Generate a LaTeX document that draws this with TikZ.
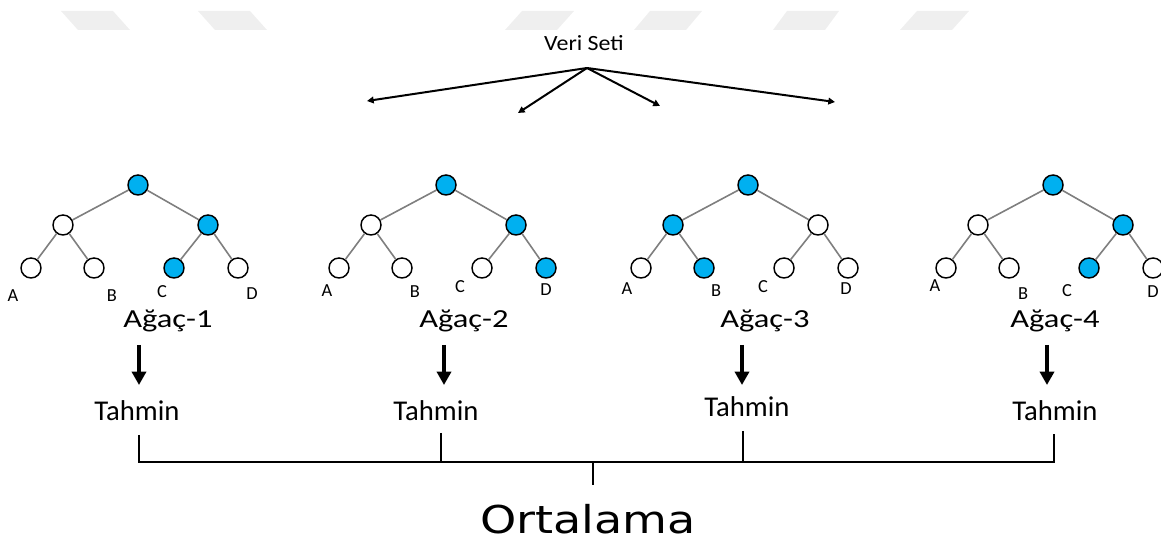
\documentclass[tikz,border=0pt]{standalone}
\usepackage{fontspec}
\setmainfont{Carlito}
\newfontfamily\ortafont{DejaVu Sans}
\usepackage{graphicx}
\usetikzlibrary{arrows.meta}

\definecolor{treeblue}{HTML}{00B0F0}
\definecolor{edgegray}{HTML}{7F7F7F}
\definecolor{markgray}{HTML}{EFEFEF}

\tikzset{
  vertex/.style={circle, draw=black, line width=1.1pt, fill=white, minimum size=15pt, inner sep=0pt},
  edge/.style={draw=edgegray, line width=1.2pt},
  fan/.style={line width=1.5pt, -{Triangle[length=5pt, width=5pt]}},
  down/.style={line width=3pt, -{Triangle[length=10pt, width=10.5pt]}},
  bracket/.style={line width=2.1pt, line join=miter},
  title/.style={anchor=base, inner sep=0pt, font=\fontsize{16.3}{18}\selectfont},
  leaflabel/.style={anchor=base, inner sep=0pt, font=\fontsize{13.8}{15}\selectfont},
  treename/.style={anchor=base, inner sep=0pt, font=\fontsize{19.5}{22}\selectfont},
  guess/.style={anchor=base, inner sep=0pt, font=\fontsize{21.5}{24}\selectfont},
  result/.style={anchor=base, inner sep=0pt, font=\ortafont\fontsize{28.8}{32}\selectfont}
}

\begin{document}
\begin{tikzpicture}[x=0.75pt, y=-0.75pt]
\useasboundingbox (0,0) rectangle (1161,541);

% faint marks along the top edge
\foreach \a/\b in {61/78, 198/215, 522/505, 650/634, 787/773, 917/900}
  \fill[markgray] (\a,11) -- (\a+52,11) -- (\b+52,30) -- (\b,30) -- cycle;

% data set splits four ways
\node[title] (data) at (584,51) {\scalebox{1.1}[1]{Veri Seti}};
\coordinate (hub) at (587,68);
\foreach \n/\px/\py in {1/367/101, 2/518/113, 3/660/106, 4/835/102} {
  \coordinate (split\n) at (\px,\py);
  \draw[fan] (hub) -- (split\n);
}

% the four trees, chosen branch in blue
\foreach \i/\x/\branch/\pick in {1/138/R/C, 2/446/R/D, 3/748/L/B, 4/1053/R/C} {
  \tikzset{br L/.style={}, br R/.style={},
    lf A/.style={}, lf B/.style={}, lf C/.style={}, lf D/.style={},
    br \branch/.style={fill=treeblue}, lf \pick/.style={fill=treeblue}}
  \node[vertex, fill=treeblue] (root\i) at (\x,185) {};
  \node[vertex, br L] (mid\i-L) at (\x-75,225) {};
  \node[vertex, br R] (mid\i-R) at (\x+70,225) {};
  \node[vertex, lf A] (leaf\i-A) at (\x-107,268) {};
  \node[vertex, lf B] (leaf\i-B) at (\x-44,268) {};
  \node[vertex, lf C] (leaf\i-C) at (\x+36,268) {};
  \node[vertex, lf D] (leaf\i-D) at (\x+100,268) {};
  \draw[edge] (root\i) -- (mid\i-L) (root\i) -- (mid\i-R)
    (mid\i-L) -- (leaf\i-A) (mid\i-L) -- (leaf\i-B)
    (mid\i-R) -- (leaf\i-C) (mid\i-R) -- (leaf\i-D);
}

% leaf letters
\foreach \i/\ax/\ay/\bx/\by/\cx/\cy/\dx/\dy in {1/13/302/112/302/162/298/252/300,
    2/327/297/415/298/460/293/546/296, 3/627/295/716/297/763/293/846/295,
    4/935/292/1023/300/1067/297/1153/298} {
  \node[leaflabel] (lab\i-A) at (\ax,\ay) {A};
  \node[leaflabel] (lab\i-B) at (\bx,\by) {B};
  \node[leaflabel] (lab\i-C) at (\cx,\cy) {C};
  \node[leaflabel] (lab\i-D) at (\dx,\dy) {D};
}

% tree names, predictions and the arrows between them
\foreach \i/\x/\ax/\tx/\ty/\sx/\sy in {1/168/139/137/421/139/435, 2/464/444/436/421/441/433,
    3/765/742/747/417/743/431, 4/1055/1047/1055/421/1054/434} {
  \node[treename] (name\i) at (\x,328) {\scalebox{1.25}[1]{Ağaç-\i}};
  \node[guess] (guess\i) at (\tx,\ty) {Tahmin};
  \coordinate (top\i) at (\ax,345);
  \coordinate (tip\i) at (\ax,385);
  \draw[down] (top\i) -- (tip\i);
  \coordinate (stem\i) at (\sx,\sy);
  \coordinate (foot\i) at (\sx,462);
}

% bracket into the average
\draw[bracket] (stem1) -- (foot1) -- (foot4) -- (stem4);
\draw[bracket] (stem2) -- (foot2);
\draw[bracket] (stem3) -- (foot3);
\coordinate (join) at (593,462);
\coordinate (drop) at (593,485);
\draw[bracket] (join) -- (drop);
\node[result] (avg) at (588,533) {\scalebox{1.2}[1]{Ortalama}};
\end{tikzpicture}
\end{document}
